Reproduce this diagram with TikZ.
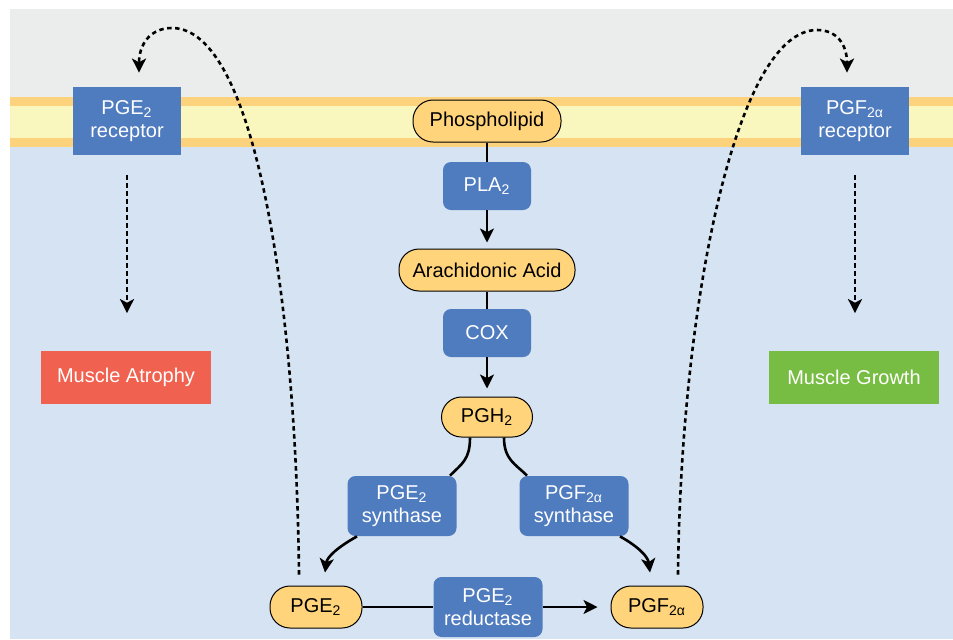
\documentclass[tikz,border=0pt]{standalone}
\usepackage{fontspec}
\setmainfont{Liberation Sans}
\usetikzlibrary{arrows.meta}

\definecolor{bggray}{HTML}{EBECEC}
\definecolor{memorange}{HTML}{FDD27C}
\definecolor{memyellow}{HTML}{FAF7BE}
\definecolor{cellblue}{HTML}{D6E3F2}
\definecolor{molyellow}{HTML}{FFD47B}
\definecolor{enzblue}{HTML}{4F7BBF}
\definecolor{atrophyred}{HTML}{F0614F}
\definecolor{growthgreen}{HTML}{78BD43}

\begin{document}
\begin{tikzpicture}[
                x=0.5pt, y=-0.5pt,
                >={Stealth[length=7pt, width=7pt, inset=1.8pt]},
                every node/.style={font=\fontsize{10}{11.5}\selectfont},
                mol/.style   ={draw=black, line width=0.5pt, fill=molyellow,
                        rounded corners=10pt, minimum height=21pt, inner sep=2pt},
                enz/.style   ={fill=enzblue, text=white, rounded corners=4pt,
                        minimum width=44pt, minimum height=24pt, align=center, inner sep=2pt},
                syn/.style   ={enz, minimum width=54.5pt, minimum height=30pt},
                rec/.style   ={fill=enzblue, text=white, minimum width=54pt,
                        minimum height=34pt, align=center, inner sep=2pt},
                effect/.style={text=white, minimum width=85pt, minimum height=26.5pt},
                flow/.style  ={line width=1.3pt},
                signal/.style={line width=1.3pt, dash pattern=on 2.2pt off 1.8pt, ->}
            ]
            \useasboundingbox (0,0) rectangle (953,639);

            %% ---- BACKGROUND: outside, membrane, cell -------------------------
            \fill[bggray]     (10,9)   rectangle (953,97);
            \fill[memorange]  (10,97)  rectangle (953,147);
            \fill[memyellow]  (10,106) rectangle (953,138);
            \fill[cellblue]   (10,147) rectangle (953,639);

            %% ---- CENTRE: synthesis pathway ------------------------------------
            \node[mol, minimum width=74pt] (phos) at (487,121) {Phospholipid};
            \node[enz] (pla) at (487,186) {PLA\textsubscript{2}};
            \node[mol, minimum width=88pt] (ara) at (487,270) {Arachidonic Acid};
            \node[enz] (cox) at (487,333) {COX};
            \node[mol, minimum width=45.5pt, minimum height=20pt] (pgh) at (487,417) {PGH\textsubscript{2}};
            \node[syn] (pges) at (402,506) {PGE\textsubscript{2}\\synthase};
            \node[syn] (pgfs) at (574,506) {PGF\textsubscript{2α}\\synthase};
            \node[mol, minimum width=46pt] (pge) at (316,607) {PGE\textsubscript{2}};
            \node[mol, minimum width=46pt] (pgf) at (657,607) {PGF\textsubscript{2α}};
            \node[syn] (red) at (488,607) {PGE\textsubscript{2}\\reductase};

            \draw[flow] (phos) -- (pla);
            \draw[flow, ->, shorten >=3pt] (pla) -- (ara);
            \draw[flow] (ara) -- (cox);
            \draw[flow, ->, shorten >=4pt] (cox) -- (pgh);
            \draw[flow] ([xshift=-8.5pt]pgh.south) .. controls +(0,22) and +(12,-12) .. ([xshift=24pt]pges.north);
            \draw[flow, ->] ([xshift=-22.5pt]pges.south) .. controls +(-18,10) and +(2,-16) .. ([xshift=4.5pt, yshift=6.5pt]pge.north);
            \draw[flow] ([xshift=8.5pt]pgh.south) .. controls +(0,22) and +(-12,-12) .. ([xshift=-23.5pt]pgfs.north);
            \draw[flow, ->] ([xshift=23pt]pgfs.south) .. controls +(18,10) and +(-2,-16) .. ([xshift=-3.5pt, yshift=6.5pt]pgf.north);
            \draw[flow] (pge) -- (red);
            \draw[flow, ->, shorten >=6.5pt] (red) -- (pgf);

            %% ---- SIDES: receptors and their effects ---------------------------
            \node[rec] (pger) at (127,121) {PGE\textsubscript{2}\\receptor};
            \node[rec] (pgfr) at (855,121) {PGF\textsubscript{2α}\\receptor};
            \node[effect, fill=atrophyred]  (atrophy) at (126,377) {Muscle Atrophy};
            \node[effect, fill=growthgreen] (growth)  at (854,377) {Muscle Growth};

            \draw[signal, shorten <=10pt, shorten >=18.5pt] (pger.south) -- (pger.south |- atrophy.north);
            \draw[signal, shorten <=10pt, shorten >=18.5pt] (pgfr.south) -- (pgfr.south |- growth.north);

            %% ---- export out of the cell, back onto the receptors --------------
            \coordinate (pgetop) at (172,28);
            \coordinate (pgftop) at (817,30);
            \draw[signal] ([xshift=-8.5pt, yshift=5.5pt]pge.north) .. controls +(-3,-275) and +(83,0) .. (pgetop)
            .. controls +(-22,0) and +(0,-28) .. ([xshift=6pt, yshift=7pt]pger.north);
            \draw[signal] ([xshift=10.5pt, yshift=5.5pt]pgf.north) .. controls +(3,-275) and +(-80,0) .. (pgftop)
            .. controls +(20,0) and +(0,-28) .. ([xshift=-4pt, yshift=7pt]pgfr.north);

        \end{tikzpicture}
\end{document}
